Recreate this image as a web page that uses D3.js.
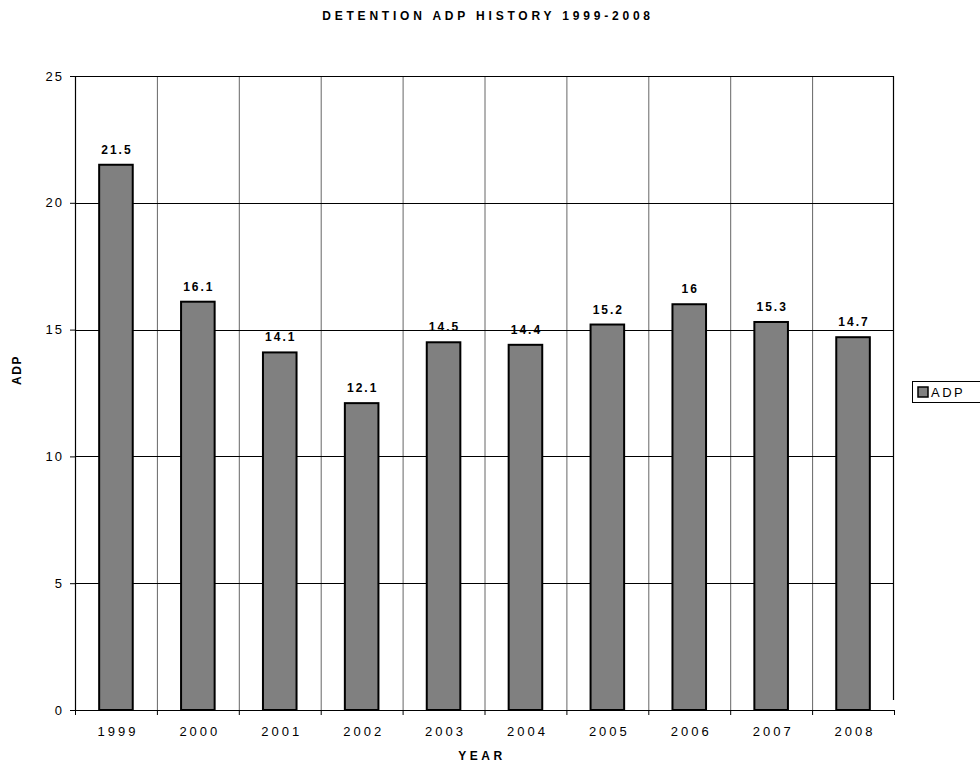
<!DOCTYPE html>
<html lang="en">
<head>
    <meta charset="UTF-8">
    <title>Detention ADP History 1999-2008</title>
    <style>
        body {
            margin: 0;
            background: #fff;
            font-family: Arial, "Liberation Sans", sans-serif;
        }
    </style>
    <script src="https://d3js.org/d3.v7.min.js"></script>
</head>
<body>
<div id="chart"></div>

<script>
// chart data
var years = ["1999", "2000", "2001", "2002", "2003", "2004", "2005", "2006", "2007", "2008"];
var adpValues = [21.5, 16.1, 14.1, 12.1, 14.5, 14.4, 15.2, 16, 15.3, 14.7];
var yTicks = [0, 5, 10, 15, 20, 25];

var totalWidth = 980, totalHeight = 764;
var margin = {top: 76, right: 86, bottom: 54, left: 75},
    width = totalWidth - margin.left - margin.right,
    height = totalHeight - margin.top - margin.bottom;

var svg = d3.select("#chart")
  .append("svg")
    .attr("width", totalWidth)
    .attr("height", totalHeight);

var g = svg.append("g")
    .attr("transform", "translate(" + margin.left + "," + margin.top + ")");

var x = d3.scaleBand()
  .domain(years)
  .range([0, width])
  .paddingInner(0.59)
  .paddingOuter(0.295);

var xEdges = d3.scaleLinear()
  .domain([0, years.length])
  .range([0, width]);

var y = d3.scaleLinear()
  .domain([0, 25])
  .range([height, 0]);

// vertical gridlines at category boundaries
g.selectAll(".vgrid")
  .data(d3.range(1, years.length))
  .enter()
  .append("line")
    .attr("x1", function(d) { return xEdges(d) + 0.5; })
    .attr("x2", function(d) { return xEdges(d) + 0.5; })
    .attr("y1", 0)
    .attr("y2", height)
    .attr("stroke", "#666")
    .attr("stroke-width", 1);

// horizontal gridlines
g.selectAll(".hgrid")
  .data(yTicks.slice(1))
  .enter()
  .append("line")
    .attr("x1", 0)
    .attr("x2", width)
    .attr("y1", function(d) { return Math.round(y(d)) + 0.5; })
    .attr("y2", function(d) { return Math.round(y(d)) + 0.5; })
    .attr("stroke", "#000")
    .attr("stroke-width", 1);

// right frame line (stops short of the bottom)
g.append("line")
    .attr("x1", width - 0.5)
    .attr("x2", width - 0.5)
    .attr("y1", 0)
    .attr("y2", height - 10)
    .attr("stroke", "#000")
    .attr("stroke-width", 1.2);

// bars
g.selectAll(".bar")
  .data(adpValues)
  .enter()
  .append("rect")
    .attr("x", function(d, i) { return x(years[i]); })
    .attr("y", function(d) { return y(d); })
    .attr("width", x.bandwidth())
    .attr("height", function(d) { return height - y(d); })
    .attr("fill", "#808080")
    .attr("stroke", "#000")
    .attr("stroke-width", 2);

// value labels
g.selectAll(".val")
  .data(adpValues)
  .enter()
  .append("text")
    .attr("x", function(d, i) { return x(years[i]) + x.bandwidth() / 2 + 1; })
    .attr("y", function(d) { return y(d) - 11; })
    .attr("text-anchor", "middle")
    .style("font-size", "12px")
    .style("font-weight", "bold")
    .style("letter-spacing", "2px")
    .text(function(d) { return d; });

// y axis
var yAxis = g.append("g")
    .call(d3.axisLeft(y).tickValues(yTicks).tickSize(5).tickPadding(6));
yAxis.select(".domain").attr("stroke", "#000").attr("stroke-width", 1.2);
yAxis.selectAll("text")
    .style("font-family", "Arial, 'Liberation Sans', sans-serif")
    .style("font-size", "13px")
    .style("letter-spacing", "2px")
    .attr("fill", "#000");

// x axis: ticks at category boundaries, labels centred
var xAxis = g.append("g")
    .attr("transform", "translate(0," + height + ")");
xAxis.append("line")
    .attr("x1", -5)
    .attr("x2", width)
    .attr("y1", 0.5)
    .attr("y2", 0.5)
    .attr("stroke", "#000")
    .attr("stroke-width", 1.2);
xAxis.selectAll(".xtick")
  .data(d3.range(0, years.length + 1))
  .enter()
  .append("line")
    .attr("x1", function(d) { return xEdges(d) + 0.5; })
    .attr("x2", function(d) { return xEdges(d) + 0.5; })
    .attr("y1", 0)
    .attr("y2", 5)
    .attr("stroke", "#000");
xAxis.selectAll(".xlabel")
  .data(years)
  .enter()
  .append("text")
    .attr("x", function(d) { return x(d) + x.bandwidth() / 2 + 2; })
    .attr("y", 26)
    .attr("text-anchor", "middle")
    .style("font-size", "13px")
    .style("letter-spacing", "3px")
    .text(function(d) { return d; });

// title
svg.append("text")
    .attr("x", 488)
    .attr("y", 20)
    .attr("text-anchor", "middle")
    .style("font-size", "12px")
    .style("font-weight", "bold")
    .style("letter-spacing", "3.8px")
    .text("DETENTION ADP HISTORY 1999-2008");

// axis titles
svg.append("text")
    .attr("x", 482)
    .attr("y", 760)
    .attr("text-anchor", "middle")
    .style("font-size", "12px")
    .style("font-weight", "bold")
    .style("letter-spacing", "3.5px")
    .text("YEAR");

svg.append("text")
    .attr("transform", "translate(21,370) rotate(-90)")
    .attr("text-anchor", "middle")
    .style("font-size", "12px")
    .style("font-weight", "bold")
    .style("letter-spacing", "1.5px")
    .text("ADP");

// legend
var legend = svg.append("g")
    .attr("transform", "translate(912,381)");
legend.append("rect")
    .attr("x", 0.5)
    .attr("y", 0.5)
    .attr("width", 70)
    .attr("height", 21)
    .attr("fill", "#fff")
    .attr("stroke", "#000")
    .attr("stroke-width", 1);
legend.append("rect")
    .attr("x", 6)
    .attr("y", 6)
    .attr("width", 10)
    .attr("height", 10)
    .attr("fill", "#808080")
    .attr("stroke", "#000")
    .attr("stroke-width", 1.5);
legend.append("text")
    .attr("x", 19)
    .attr("y", 16)
    .style("font-size", "13px")
    .style("letter-spacing", "2.5px")
    .text("ADP");
</script>
</body>
</html>
